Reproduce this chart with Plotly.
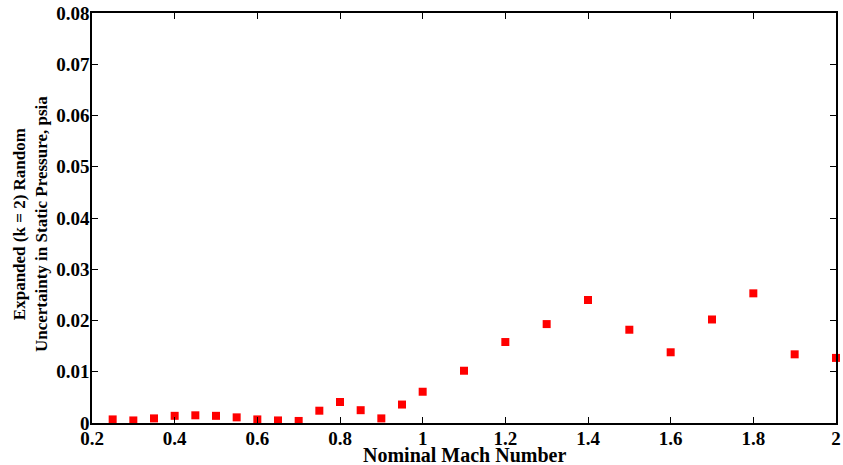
import plotly.graph_objects as go

mach = [0.25, 0.3, 0.35, 0.4, 0.45, 0.5, 0.55, 0.6, 0.65, 0.7, 0.75, 0.8, 0.85, 0.9, 0.95, 1.0,
        1.1, 1.2, 1.3, 1.4, 1.5, 1.6, 1.7, 1.8, 1.9, 2.0]
uncert = [0.0007, 0.0005, 0.0009, 0.0014, 0.0015, 0.0014, 0.0011, 0.0007, 0.0005, 0.0004, 0.0024, 0.0041,
          0.0025, 0.0009, 0.0036, 0.0061, 0.0102, 0.0158, 0.0193, 0.0240, 0.0182, 0.0138, 0.0202, 0.0253,
          0.0134, 0.0127]
x_ticks = [0.2, 0.4, 0.6, 0.8, 1.0, 1.2, 1.4, 1.6, 1.8, 2.0]
x_tick_text = ["0.2", "0.4", "0.6", "0.8", "1", "1.2", "1.4", "1.6", "1.8", "2"]
y_ticks = [0, 0.01, 0.02, 0.03, 0.04, 0.05, 0.06, 0.07, 0.08]
y_tick_text = ["0", "0.01", "0.02", "0.03", "0.04", "0.05", "0.06", "0.07", "0.08"]

FONT = "Liberation Serif"

fig = go.Figure()
fig.add_trace(go.Scatter(
    x=mach, y=uncert, mode="markers",
    marker=dict(symbol="square", size=8, color="#ff0000", line=dict(width=0)),
    cliponaxis=False, showlegend=False,
))

axis_common = dict(
    showgrid=False, zeroline=False, showline=True, linecolor="black", linewidth=1.5,
    mirror="ticks", ticks="inside", ticklen=6, tickcolor="black", tickwidth=1,
    tickfont=dict(family=FONT, size=19, color="black", weight="bold"),
    automargin=False, ticklabelstandoff=-3,
)

fig.update_layout(
    width=843, height=465,
    margin=dict(l=92, r=7, t=13, b=42),
    paper_bgcolor="white", plot_bgcolor="white",
    xaxis=dict(range=[0.2, 2.0], tickvals=x_ticks, ticktext=x_tick_text, **axis_common),
    yaxis=dict(range=[0, 0.08], tickvals=y_ticks, ticktext=y_tick_text, **axis_common),
    annotations=[
        dict(text="Nominal Mach Number", xref="paper", yref="paper", x=0.5, y=0,
             xanchor="center", yanchor="middle", yshift=-32, showarrow=False,
             font=dict(family=FONT, size=20, color="black", weight="bold")),
        dict(text="Expanded (k = 2) Random<br>Uncertainty in Static Pressure, psia",
             xref="paper", yref="paper", x=0, y=0.5, xanchor="center", yanchor="middle",
             xshift=-62, yshift=-6, textangle=-90, showarrow=False,
             font=dict(family=FONT, size=17, color="black", weight="bold")),
    ],
)

fig.write_html("out.html")
